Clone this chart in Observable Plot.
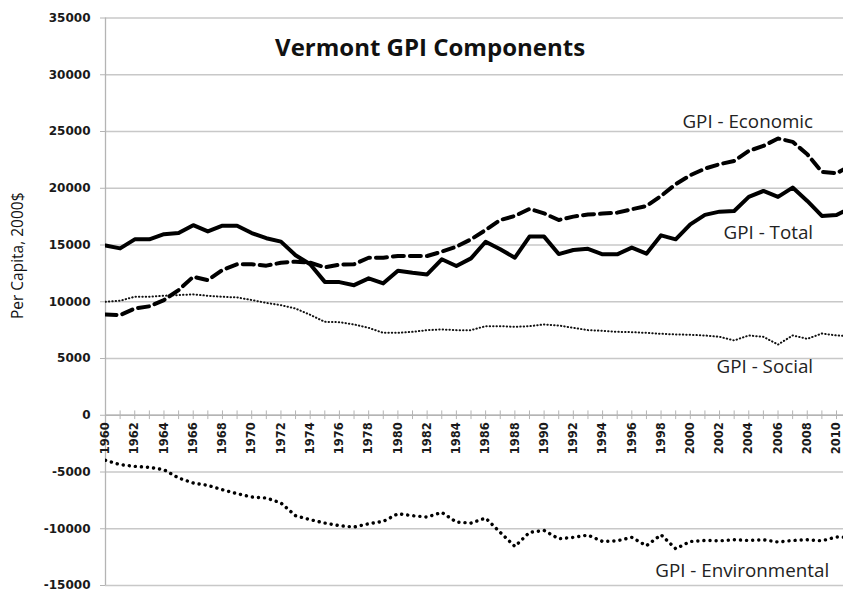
<!DOCTYPE html>
<html><head><meta charset="utf-8">
<script src="https://cdn.jsdelivr.net/npm/d3@7"></script>
<script src="https://cdn.jsdelivr.net/npm/@observablehq/plot@0.6"></script>
<style>body{margin:0;background:#fff}</style>
</head><body><div id="chart"></div>
<script>
const years = [1960,1961,1962,1963,1964,1965,1966,1967,1968,1969,1970,1971,1972,1973,1974,1975,1976,1977,1978,1979,1980,1981,1982,1983,1984,1985,1986,1987,1988,1989,1990,1991,1992,1993,1994,1995,1996,1997,1998,1999,2000,2001,2002,2003,2004,2005,2006,2007,2008,2009,2010,2011];
const total = [14950,14700,15500,15500,15950,16050,16750,16200,16700,16700,
  16050,15600,15300,14100,13300,11750,11730,11460,12060,11620,
  12740,12560,12410,13740,13150,13820,15290,14620,13880,15740,
  15740,14200,14560,14660,14180,14180,14770,14240,15850,15500,
  16820,17650,17940,18000,19240,19760,19240,20060,18880,17560,
  17650,18300];
const economic = [8880,8830,9400,9600,10150,11030,12200,11900,12800,13300,
  13300,13180,13440,13530,13440,13030,13270,13300,13880,13880,
  14030,14030,14030,14410,14850,15500,16320,17200,17560,18180,
  17790,17200,17500,17680,17770,17850,18150,18440,19320,20350,
  21150,21730,22120,22410,23290,23730,24380,24090,23000,21440,
  21320,22000];
const social = [10000,10090,10440,10440,10530,10590,10650,10530,10440,10380,
  10150,9900,9700,9400,8850,8230,8200,8000,7700,7260,
  7260,7350,7500,7560,7500,7500,7850,7850,7790,7850,
  8000,7910,7700,7500,7440,7350,7320,7260,7180,7120,
  7090,7030,6910,6590,7030,6910,6230,7030,6730,7200,
  7030,6970];
const environmental = [-3970,-4350,-4500,-4590,-4800,-5530,-5970,-6180,-6560,-6910,
  -7200,-7290,-7730,-8850,-9200,-9500,-9730,-9850,-9560,-9350,
  -8680,-8850,-8970,-8560,-9410,-9500,-9060,-10320,-11560,-10320,
  -10150,-10880,-10760,-10560,-11120,-11060,-10760,-11500,-10530,-11760,
  -11120,-11030,-11060,-10970,-11030,-10970,-11170,-11030,-10970,-11060,
  -10730,-10760];
const yTicks = [-15000,-10000,-5000,0,5000,10000,15000,20000,25000,30000,35000];
const labelYears = [1960,1962,1964,1966,1968,1970,1972,1974,1976,1978,1980,1982,1984,1986,1988,1990,1992,1994,1996,1998,2000,2002,2004,2006,2008,2010];
const titleText = "Vermont GPI Components";
const yLabel = "Per Capita, 2000$";
const seriesNames = ["GPI - Economic","GPI - Total","GPI - Social","GPI - Environmental"];

// annotation anchors (data coordinates)
const annotations = [
  {text: seriesNames[0], x: 2008.4, y: 25350},
  {text: seriesNames[1], x: 2008.4, y: 15550},
  {text: seriesNames[2], x: 2008.4, y: 3750},
  {text: seriesNames[3], x: 2009.5, y: -14250}
];

const toRows = arr => years.map((yr, i) => ({year: yr, value: arr[i]}));
const font = "'Open Sans', sans-serif";
const tickFont = "'DejaVu Sans', sans-serif";

const chart = Plot.plot({
  width: 843,
  height: 593,
  marginLeft: 105,
  marginRight: 0,
  marginTop: 17.5,
  marginBottom: 8,
  style: {background: "#fff", fontFamily: font},
  x: {domain: [1960, 2011], range: [105, 105 + 51 * 14.62], axis: null},
  y: {domain: [-15000, 35000], axis: null},
  marks: [
    Plot.ruleY(yTicks, {stroke: "#c8c8c8", strokeWidth: 1.3}),
    Plot.ruleX([1960], {stroke: "#b4b4b4", strokeWidth: 1.3}),
    Plot.axisY({ticks: yTicks, tickSize: 5, tickPadding: 10, stroke: "#b4b4b4", fill: "#1a1a1a",
      fontSize: 12, fontWeight: "bold", fontFamily: tickFont, label: null, tickFormat: d => String(d)}),
    Plot.ruleY([0], {stroke: "#b4b4b4", strokeWidth: 1.3}),
    Plot.ruleX(years, {x: d => d, y1: -380, y2: 380, stroke: "#b4b4b4", strokeWidth: 1}),
    Plot.text(labelYears, {x: d => d, y: 0, text: d => String(d), rotate: -90, textAnchor: "end",
      dy: 7, fontSize: 11.5, fontWeight: "bold", fontFamily: tickFont, fill: "#1a1a1a"}),
    Plot.line(toRows(social), {x: "year", y: "value", stroke: "#111", strokeWidth: 2,
      strokeDasharray: "0.4 3", strokeLinecap: "round", clip: true}),
    Plot.line(toRows(environmental), {x: "year", y: "value", stroke: "#000", strokeWidth: 3.4,
      strokeDasharray: "0.1 6", strokeLinecap: "round", clip: true}),
    Plot.line(toRows(economic), {x: "year", y: "value", stroke: "#000", strokeWidth: 4,
      strokeDasharray: "11 6", strokeLinejoin: "round", clip: true}),
    Plot.line(toRows(total), {x: "year", y: "value", stroke: "#000", strokeWidth: 4,
      strokeLinejoin: "round", clip: true}),
    Plot.text(annotations, {x: "x", y: "y", text: "text", textAnchor: "end", lineAnchor: "bottom",
      fontSize: 18.8, fill: "#222", fontFamily: font}),
    Plot.text([titleText], {x: [1982.2], y: [31650], text: d => d, textAnchor: "middle", lineAnchor: "bottom",
      fontSize: 24, fontWeight: "bold", fill: "#111", fontFamily: font}),
    Plot.text([yLabel], {frameAnchor: "left", text: d => d, rotate: -90, textAnchor: "middle", lineAnchor: "middle",
      dx: -87, dy: -46, fontSize: 15.5, fill: "#111", fontFamily: font})
  ]
});
document.getElementById("chart").appendChild(chart);
</script>
</body></html>
